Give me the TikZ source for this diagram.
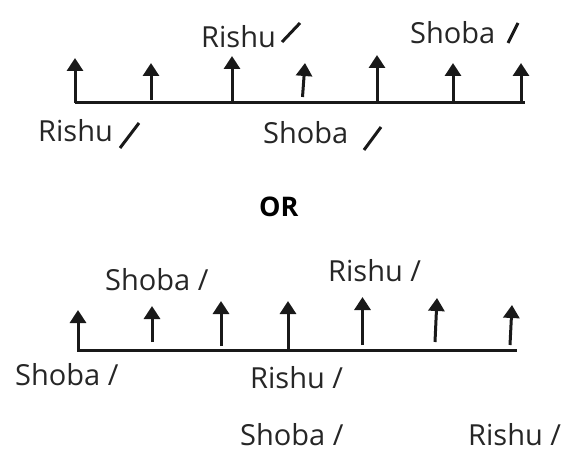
\documentclass[tikz,border=0pt]{standalone}
\usepackage{fontspec}
\setmainfont{Open Sans}
\usetikzlibrary{arrows.meta}
\tikzset{
  lbl/.style={inner sep=0pt, anchor=base west, text=black!85, font=\fontsize{29}{34}\selectfont},
  orlbl/.style={inner sep=0pt, anchor=base west, text=black, font=\fontsize{27}{32}\selectfont\bfseries},
  upar/.style={line width=3pt, draw=black!90, -{Triangle[width=16pt,length=13pt]}},
  axisline/.style={line width=3pt, draw=black!90},
  slashmark/.style={line width=3pt, draw=black!90}
}
\begin{document}
\begin{tikzpicture}[x=1pt,y=-1pt]
\useasboundingbox (0,0) rectangle (571,452);
% ---------- top diagram ----------
\coordinate (tb0) at (75,103);
\coordinate (tb1) at (525,103);
\draw[axisline] (tb0) -- (tb1);
\foreach \i/\xb/\yb/\xt/\yt in {1/75/103/75/58, 2/151/100/151/63, 3/232/103/232/56, 4/302.5/97/305/63, 5/377/101/377/55, 6/453/101/453/63, 7/521/103/521/63}{
  \coordinate (ta\i b) at (\xb,\yb);
  \coordinate (ta\i t) at (\xt,\yt);
  \draw[upar] (ta\i b) -- (ta\i t);
}
\node[lbl] (tl1) at (201,48) {Rishu};
\node[lbl] (tl2) at (410,43.5) {Shoba};
\node[lbl] (tl3) at (38,141.5) {Rishu};
\node[lbl] (tl4) at (263,143) {Shoba};
\coordinate (s1a) at (282,42); \coordinate (s1b) at (300,23);
\coordinate (s2a) at (508,43); \coordinate (s2b) at (518,23);
\coordinate (s3a) at (120,148); \coordinate (s3b) at (139,123);
\coordinate (s4a) at (364,150); \coordinate (s4b) at (381,127);
\draw[slashmark] (s1a) -- (s1b);
\draw[slashmark] (s2a) -- (s2b);
\draw[slashmark] (s3a) -- (s3b);
\draw[slashmark] (s4a) -- (s4b);
% ---------- OR ----------
\node[orlbl] (orl) at (259,216) {OR};
% ---------- bottom diagram ----------
\coordinate (bb0) at (77,350);
\coordinate (bb1) at (517,350);
\draw[axisline] (bb0) -- (bb1);
\foreach \i/\xb/\yb/\xt/\yt in {1/78/350/78/310, 2/152/342/152/306, 3/221/346/221/301, 4/288/350/288/301, 5/362.5/345/362.5/297, 6/435/342/437/298, 7/510/345/512/305}{
  \coordinate (ba\i b) at (\xb,\yb);
  \coordinate (ba\i t) at (\xt,\yt);
  \draw[upar] (ba\i b) -- (ba\i t);
}
\node[lbl] (bl1) at (105,290) {Shoba /};
\node[lbl] (bl2) at (328,281.5) {Rishu /};
\node[lbl] (bl3) at (15,385) {Shoba /};
\node[lbl] (bl4) at (250,388) {Rishu /};
\node[lbl] (bl5) at (240,445) {Shoba /};
\node[lbl] (bl6) at (468,445) {Rishu /};
\end{tikzpicture}
\end{document}
